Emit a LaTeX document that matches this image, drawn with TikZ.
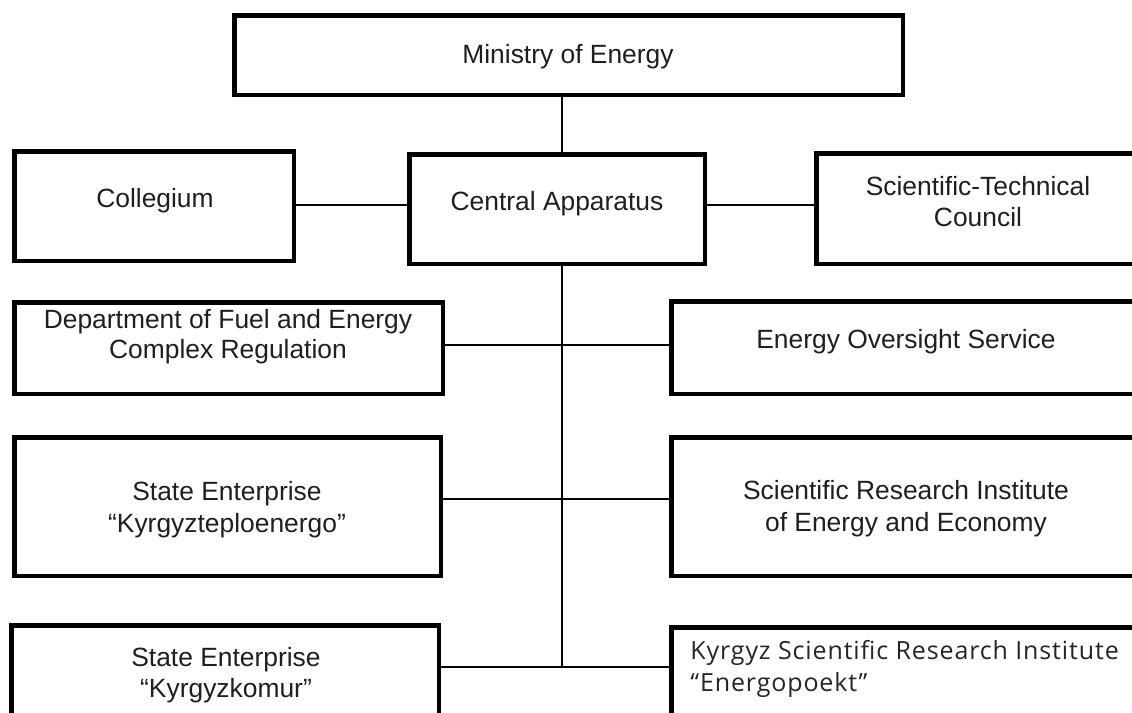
\documentclass[tikz,border=0pt]{standalone}
\usepackage{fontspec}
\setmainfont{Liberation Sans}
\newfontfamily\osans[LetterSpace=3.5]{Open Sans}
\begin{document}
\begin{tikzpicture}[x=0.5pt,y=-0.5pt,
  box/.style={draw=black, line width=2.25pt, inner sep=0pt, fill=white},
  conn/.style={draw=black, line width=0.8pt},
  lbl/.style={anchor=base, inner sep=0pt, text=black!88, font=\fontsize{13.2pt}{15pt}\selectfont},
  lblo/.style={anchor=base west, inner sep=0pt, text=black!85, font=\osans\fontsize{12.5pt}{15pt}\selectfont}]
\useasboundingbox (0,0) rectangle (1132,713);
\clip (0,0) rectangle (1132,713);
\fill[white] (0,0) rectangle (1132,713);
% row coordinates
\coordinate (spx) at (562,0);
\coordinate (r1) at (0,205);
\coordinate (r2) at (0,345);
\coordinate (r3) at (0,499);
\coordinate (r4) at (0,667);
% boxes
\node[box, minimum width=334.25pt, minimum height=39.75pt] (ministry) at (568.5,55) {};
\node[box, minimum width=139.75pt, minimum height=54.75pt] (coll) at (154,206) {};
\node[box, minimum width=147.75pt, minimum height=54.75pt] (central) at (557,209) {};
\node[box, minimum width=161.75pt, minimum height=55.25pt] (stc) at (978,208.5) {};
\node[box, minimum width=214.25pt, minimum height=45.75pt] (dept) at (228.5,348) {};
\node[box, minimum width=234.25pt, minimum height=46.25pt] (eo) at (905.5,347.5) {};
\node[box, minimum width=213.25pt, minimum height=69.25pt] (kt) at (227.5,506.5) {};
\node[box, minimum width=234.25pt, minimum height=69.25pt] (sri) at (905.5,506.5) {};
\node[box, minimum width=213.75pt, minimum height=56.25pt] (komur) at (225,681.5) {};
\node[box, minimum width=234.25pt, minimum height=55.25pt] (ksri) at (905.5,682.5) {};
% connectors
\draw[conn] (ministry.south -| spx) -- (central.north -| spx);
\draw[conn] (coll.east |- r1) -- (central.west |- r1);
\draw[conn] (central.east |- r1) -- (stc.west |- r1);
\draw[conn] (central.south -| spx) -- (r4 -| spx);
\draw[conn] (dept.east |- r2) -- (eo.west |- r2);
\draw[conn] (kt.east |- r3) -- (sri.west |- r3);
\draw[conn] (komur.east |- r4) -- (ksri.west |- r4);
% labels
\node[lbl] (ministry-t) at (568,63) {Ministry of Energy};
\node[lbl] (coll-t) at (155,207) {Collegium};
\node[lbl] (central-t) at (557,210) {Central Apparatus};
\node[lbl] (stc-t1) at (978,195) {Scientific-Technical};
\node[lbl] (stc-t2) at (978,226) {Council};
\node[lbl] (dept-t1) at (228,328) {Department of Fuel and Energy};
\node[lbl] (dept-t2) at (228,358) {Complex Regulation};
\node[lbl] (eo-t) at (906,348) {Energy Oversight Service};
\node[lbl] (kt-t1) at (227,500) {State Enterprise};
\node[lbl] (kt-t2) at (227,532) {“Kyrgyzteploenergo”};
\node[lbl] (sri-t1) at (906,499) {Scientific Research Institute};
\node[lbl] (sri-t2) at (906,531) {of Energy and Economy};
\node[lbl] (komur-t1) at (226,666) {State Enterprise};
\node[lbl] (komur-t2) at (226,697) {“Kyrgyzkomur”};
\node[lblo] (ksri-t1) at (690,659) {Kyrgyz Scientific Research Institute};
\node[lblo] (ksri-t2) at (690,691) {“Energopoekt”};
\end{tikzpicture}
\end{document}
